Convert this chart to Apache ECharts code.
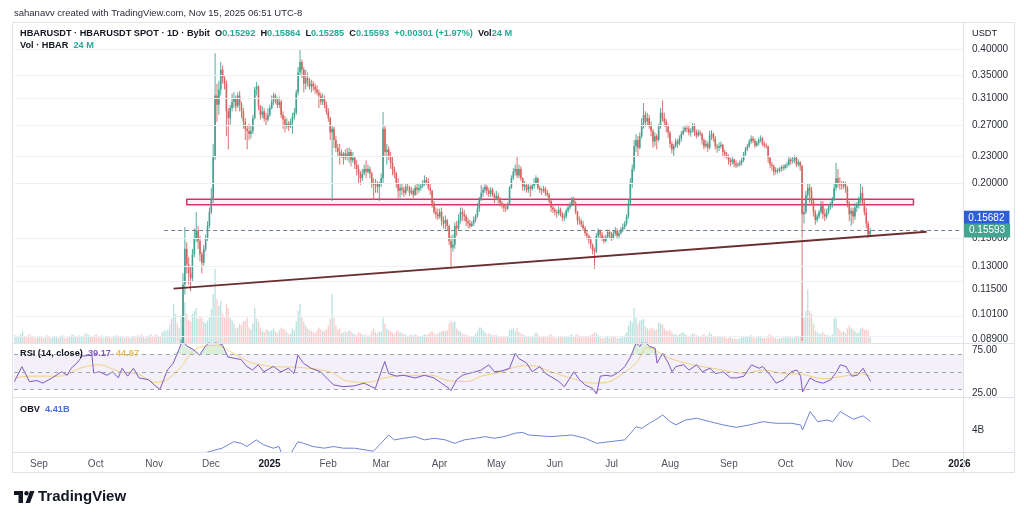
<!DOCTYPE html>
<html><head><meta charset="utf-8">
<script src="https://cdn.jsdelivr.net/npm/echarts@6/dist/echarts.min.js"></script>
<style>html,body{margin:0;padding:0;background:#fff}#c{width:1024px;height:514px}</style>
</head><body><div id="c"></div>
<script>
// ---------- DATA ----------
// daily closes 2024-08-19 .. 2024-11-09 (candles lie below the visible price range)
const closePre = [.0560,.0575,.0581,.0590,.0612,.0605,.0598,.0571,.0560,.0555,.0548,.0535,.0540,
 .0532,.0525,.0518,.0522,.0510,.0497,.0503,.0510,.0526,.0531,.0528,.0539,.0548,.0544,.0536,.0529,.0534,.0541,.0562,.0571,.0568,.0575,.0581,.0590,.0583,.0594,.0602,.0596,.0588,.0576,
 .0545,.0531,.0528,.0535,.0532,.0536,.0529,.0521,.0515,.0512,.0523,.0526,.0521,.0534,.0528,.0531,.0512,.0507,.0510,.0515,.0502,.0498,.0493,.0496,.0478,.0482,.0487,.0480,.0492,.0486,.0474,
 .0470,.0468,.0472,.0468,.0480,.0508,.0521,.0535,.0560];
// daily [close, low, high]; open = previous close
const nov24 = [[.0610,.0555,.0625],[.0690,.0600,.0720],[.0720,.0660,.0780],[.0680,.0640,.0740],[.0705,.0665,.0735],[.0840,.0695,.0890],[.1180,.0830,.1250],[.1420,.1120,.1590],[.1310,.1250,.1470],[.1250,.1180,.1360],[.1220,.1140,.1300],[.1380,.1200,.1420],[.1500,.1360,.1580],[.1560,.1470,.1720],[.1480,.1420,.1600],[.1380,.1330,.1520],[.1320,.1250,.1400],[.1420,.1300,.1450],[.1500,.1400,.1530],[.1600,.1480,.1640],[.1720,.1580,.1760]];
const dec24 = [[.1850,.1700,.1950],[.2300,.1800,.2450],[.3150,.2250,.3920],[.3000,.2750,.3350],[.3250,.2850,.3400],[.3600,.3150,.3750],[.3450,.3350,.3680],[.3350,.3250,.3500],[.2900,.2550,.3400],[.2800,.2380,.2950],[.2950,.2700,.3000],[.3050,.2900,.3180],[.3100,.2950,.3200],[.2980,.2900,.3150],[.3150,.2950,.3200],[.3000,.2900,.3220],[.2900,.2800,.3050],[.2750,.2650,.2950],[.2650,.2500,.2800],[.2620,.2380,.2700],[.2580,.2500,.2720],[.2620,.2520,.2700],[.2800,.2580,.2850],[.3250,.2780,.3300],[.3300,.3150,.3380],[.2980,.2920,.3320],[.2850,.2780,.3000],[.2900,.2800,.2980],[.2800,.2750,.2950],[.2780,.2700,.2880],[.2850,.2750,.2950]];
const jan25 = [[.2950,.2820,.3000],[.3050,.2930,.3150],[.3150,.3000,.3200],[.3100,.3020,.3180],[.3000,.2950,.3120],[.3050,.2950,.3130],[.2850,.2800,.3080],[.2780,.2650,.2900],[.2700,.2600,.2830],[.2720,.2650,.2800],[.2680,.2620,.2760],[.2750,.2660,.2790],[.2820,.2580,.2880],[.2880,.2780,.2950],[.3200,.2850,.3250],[.3550,.3150,.3650],[.3750,.3500,.4000],[.3600,.3450,.3800],[.3350,.3200,.3650],[.3450,.3250,.3600],[.3400,.3300,.3550],[.3300,.3250,.3450],[.3350,.3200,.3420],[.3300,.3230,.3400],[.3250,.3180,.3350],[.3200,.3150,.3320],[.3150,.2950,.3250],[.3050,.3000,.3200],[.3100,.3000,.3180],[.3000,.2950,.3150],[.2900,.2850,.3050]];
const feb25 = [[.2800,.2750,.2950],[.2600,.2500,.2820],[.2650,.1820,.2700],[.2500,.2400,.2680],[.2400,.2350,.2550],[.2350,.2300,.2450],[.2300,.2200,.2450],[.2330,.2280,.2380],[.2280,.2200,.2350],[.2330,.2250,.2380],[.2300,.2250,.2400],[.2350,.2220,.2400],[.2250,.2180,.2380],[.2280,.2220,.2350],[.2200,.2150,.2300],[.2150,.2080,.2250],[.2100,.2000,.2200],[.2050,.1980,.2130],[.2100,.2020,.2150],[.2150,.2080,.2200],[.2120,.2050,.2250],[.2150,.2100,.2200],[.2100,.2050,.2180],[.2000,.1950,.2120],[.1980,.1830,.2050],[.1990,.1900,.2040],[.1960,.1900,.2020],[.1990,.1820,.2010]];
const mar25 = [[.2050,.1960,.2100],[.2650,.2000,.2890],[.2350,.2300,.2700],[.2380,.2200,.2450],[.2300,.2250,.2420],[.2220,.2150,.2350],[.2150,.2080,.2300],[.2100,.2050,.2180],[.2000,.1950,.2120],[.1920,.1850,.2050],[.1950,.1850,.1990],[.1930,.1880,.1990],[.1900,.1860,.1960],[.1960,.1880,.1990],[.1950,.1920,.1990],[.1900,.1870,.1970],[.1920,.1880,.1960],[.1880,.1850,.1940],[.1950,.1870,.1980],[.1930,.1880,.1990],[.1950,.1900,.1990],[.1970,.1920,.2000],[.2000,.1950,.2030],[.2030,.1970,.2080],[.2010,.1980,.2060],[.1950,.1930,.2050],[.1920,.1880,.1990],[.1800,.1760,.1930],[.1720,.1700,.1820],[.1700,.1660,.1760],[.1680,.1650,.1750]];
const apr25 = [[.1720,.1660,.1750],[.1640,.1600,.1760],[.1620,.1580,.1680],[.1650,.1570,.1690],[.1600,.1560,.1660],[.1480,.1450,.1610],[.1430,.1280,.1520],[.1450,.1400,.1530],[.1600,.1420,.1630],[.1580,.1520,.1640],[.1650,.1560,.1700],[.1720,.1620,.1760],[.1700,.1640,.1760],[.1680,.1640,.1740],[.1640,.1600,.1700],[.1620,.1580,.1670],[.1600,.1580,.1650],[.1620,.1590,.1640],[.1650,.1600,.1680],[.1680,.1630,.1700],[.1750,.1670,.1800],[.1830,.1720,.1860],[.1900,.1820,.1980],[.1930,.1860,.1960],[.1960,.1900,.2000],[.1920,.1880,.1980],[.1890,.1860,.1950],[.1930,.1860,.1960],[.1880,.1860,.1950],[.1850,.1800,.1900]];
const may25 = [[.1870,.1830,.1920],[.1830,.1800,.1900],[.1800,.1770,.1860],[.1780,.1750,.1820],[.1760,.1720,.1800],[.1750,.1720,.1790],[.1790,.1740,.1810],[.1950,.1780,.1970],[.2050,.1940,.2080],[.2120,.2030,.2160],[.2150,.2080,.2200],[.2080,.2050,.2290],[.2150,.2050,.2200],[.2050,.2020,.2180],[.1960,.1920,.2060],[.1980,.1920,.2020],[.1930,.1900,.2000],[.1960,.1900,.2000],[.1940,.1860,.1980],[.1970,.1920,.2000],[.1990,.1940,.2050],[.2050,.1980,.2080],[.1950,.1930,.2060],[.1930,.1900,.1970],[.1920,.1880,.1950],[.1940,.1900,.1970],[.1900,.1870,.1960],[.1880,.1860,.1930],[.1820,.1800,.1900],[.1760,.1720,.1830],[.1740,.1710,.1780]];
const jun25 = [[.1720,.1690,.1760],[.1710,.1670,.1740],[.1740,.1690,.1770],[.1700,.1680,.1760],[.1670,.1640,.1720],[.1680,.1640,.1710],[.1730,.1660,.1750],[.1760,.1710,.1780],[.1790,.1740,.1810],[.1840,.1770,.1860],[.1800,.1780,.1860],[.1720,.1700,.1820],[.1650,.1610,.1730],[.1640,.1610,.1680],[.1610,.1590,.1660],[.1580,.1560,.1640],[.1540,.1520,.1600],[.1520,.1490,.1560],[.1490,.1460,.1530],[.1450,.1420,.1510],[.1410,.1380,.1460],[.1400,.1280,.1430],[.1520,.1390,.1540],[.1560,.1500,.1580],[.1530,.1500,.1570],[.1500,.1480,.1550],[.1480,.1460,.1520],[.1510,.1470,.1530],[.1550,.1500,.1570],[.1530,.1500,.1570]];
const jul25 = [[.1500,.1480,.1550],[.1540,.1490,.1560],[.1560,.1520,.1590],[.1520,.1500,.1580],[.1540,.1500,.1560],[.1570,.1530,.1590],[.1590,.1550,.1620],[.1620,.1570,.1640],[.1680,.1600,.1700],[.1800,.1660,.1830],[.2000,.1780,.2050],[.2150,.1950,.2200],[.2420,.2120,.2500],[.2500,.2350,.2580],[.2400,.2300,.2550],[.2550,.2380,.2600],[.2720,.2520,.2800],[.2850,.2650,.3030],[.2750,.2680,.2900],[.2800,.2700,.2880],[.2700,.2650,.2850],[.2620,.2550,.2750],[.2480,.2400,.2650],[.2550,.2420,.2600],[.2500,.2380,.2580],[.2680,.2480,.2720],[.2880,.2650,.2950],[.2800,.2750,.3070],[.2750,.2680,.2880],[.2680,.2600,.2790],[.2600,.2530,.2720]];
const aug25 = [[.2450,.2400,.2620],[.2380,.2330,.2480],[.2420,.2300,.2450],[.2480,.2400,.2520],[.2450,.2400,.2510],[.2520,.2430,.2560],[.2580,.2480,.2620],[.2620,.2560,.2680],[.2660,.2600,.2700],[.2650,.2600,.2710],[.2600,.2560,.2700],[.2620,.2540,.2660],[.2700,.2600,.2730],[.2600,.2550,.2720],[.2560,.2520,.2640],[.2600,.2540,.2640],[.2580,.2550,.2630],[.2500,.2440,.2600],[.2420,.2380,.2520],[.2450,.2400,.2500],[.2400,.2350,.2480],[.2560,.2380,.2620],[.2580,.2500,.2630],[.2520,.2480,.2600],[.2420,.2380,.2550],[.2400,.2340,.2450],[.2420,.2360,.2470],[.2440,.2390,.2480],[.2350,.2300,.2450],[.2320,.2280,.2380],[.2300,.2270,.2350]];
const sep25 = [[.2250,.2200,.2320],[.2230,.2180,.2280],[.2260,.2200,.2290],[.2210,.2170,.2270],[.2190,.2160,.2250],[.2200,.2170,.2230],[.2220,.2180,.2250],[.2250,.2190,.2280],[.2320,.2230,.2350],[.2380,.2300,.2410],[.2420,.2360,.2450],[.2480,.2400,.2510],[.2520,.2450,.2560],[.2490,.2460,.2550],[.2430,.2400,.2520],[.2460,.2410,.2490],[.2500,.2430,.2530],[.2520,.2470,.2560],[.2450,.2420,.2540],[.2430,.2400,.2480],[.2420,.2390,.2460],[.2280,.2220,.2430],[.2200,.2160,.2300],[.2180,.2130,.2230],[.2120,.2080,.2200],[.2140,.2090,.2170],[.2130,.2100,.2160],[.2150,.2110,.2170],[.2170,.2120,.2190],[.2160,.2130,.2200]];
const oct25 = [[.2190,.2140,.2210],[.2200,.2160,.2230],[.2260,.2180,.2300],[.2240,.2200,.2280],[.2250,.2210,.2300],[.2280,.2220,.2310],[.2200,.2170,.2300],[.2230,.2180,.2260],[.2180,.2130,.2240],[.1700,.0880,.2200],[.1720,.1620,.1800],[.1880,.1700,.1920],[.1950,.1850,.2000],[.1920,.1800,.1990],[.1820,.1780,.1960],[.1720,.1680,.1850],[.1650,.1610,.1740],[.1680,.1630,.1700],[.1720,.1660,.1740],[.1780,.1700,.1820],[.1700,.1660,.1820],[.1680,.1640,.1750],[.1720,.1660,.1750],[.1760,.1700,.1790],[.1780,.1740,.1810],[.1830,.1760,.1860],[.1950,.1820,.2000],[.2050,.1920,.2220],[.2000,.1950,.2150],[.1980,.1930,.2060],[.1970,.1930,.2020]];
const nov25 = [[.1990,.1940,.2020],[.1950,.1900,.2010],[.1800,.1760,.1970],[.1700,.1640,.1820],[.1730,.1600,.1760],[.1680,.1620,.1760],[.1760,.1650,.1800],[.1780,.1720,.1810],[.1830,.1750,.1860],[.1900,.1800,.1990],[.1800,.1780,.1960],[.1720,.1690,.1850],[.1620,.1580,.1760],[.15292,.1500,.1640],[.15593,.15285,.15864]];
// daily volume (bar heights), 2024-08-19 .. 2025-11-15
const volume = [80,60,70,90,120,70,60,80,90,70,60,50,60,
 60,70,50,60,80,70,50,60,70,60,50,60,80,60,50,60,70,80,90,70,60,80,70,60,90,100,80,60,70,80,
 90,70,60,80,50,60,70,60,50,60,70,80,60,70,60,50,70,60,50,60,70,60,80,70,90,60,50,70,80,90,70,
 80,90,70,60,110,130,120,140,190,250,400,300,200,150,280,500,420,300,240,220,300,330,360,250,280,260,220,200,230,260,
 350,500,760,450,380,430,300,260,400,360,260,230,200,150,160,200,180,220,230,260,160,140,200,360,250,220,160,120,110,140,130,
 120,130,150,120,100,130,160,150,140,110,90,100,150,130,220,330,400,280,220,180,150,130,120,110,100,130,160,140,120,130,140,
 180,250,500,260,180,140,150,100,110,120,110,130,120,100,90,80,110,100,90,80,90,70,80,120,150,110,100,120,
 110,260,200,150,130,120,110,90,120,130,110,100,90,90,70,80,90,80,90,80,70,70,80,90,80,90,110,120,100,90,100,
 110,120,130,120,130,200,230,210,220,150,130,120,100,90,80,80,70,60,70,90,120,160,160,130,110,90,100,90,80,80,
 80,70,60,60,70,60,70,130,140,150,120,160,110,100,90,80,70,60,60,70,80,110,90,70,60,60,70,60,80,90,70,
 60,50,60,70,60,60,60,70,80,90,70,80,90,70,60,60,70,70,60,80,90,110,100,80,60,50,50,60,60,50,
 60,70,60,50,50,60,60,80,110,180,230,210,360,260,200,230,240,250,170,150,140,160,150,130,140,210,200,190,150,130,120,
 140,110,90,90,80,90,100,110,90,80,70,80,100,90,80,70,70,80,90,70,80,110,90,70,60,60,70,60,70,60,50,
 50,60,50,50,40,40,50,60,70,70,60,70,80,60,50,60,70,60,50,50,50,80,90,70,60,50,40,50,50,60,
 60,60,70,60,50,60,70,60,70,300,260,330,550,330,300,200,130,110,90,100,110,90,80,80,70,90,250,260,160,130,110,
 120,100,150,180,160,140,120,100,110,150,160,130,140,130,60];
// [day offset from 2025-01-01, value]
const rsi = [[-135,38.7],[-131,55.8],[-127,38.7],[-123,40],[-120,37],[-115,43],[-110,50],[-107,46],[-105,54],[-102,59.7],[-99,68],[-94,69],[-93,48.6],[-90,50],[-86,46],[-83,50],[-80,43],[-78,54],[-75,45],[-72,54],[-69,43],[-64,41],[-61,35],[-58,30],[-56,41],[-54,52],[-51,59.7],[-48,75],[-46,86],[-44,80],[-40,75],[-37,69],[-34,79],[-31,86],[-28,83],[-25,81],[-22,67],[-19,65.6],[-15,64],[-12,56],[-9,52],[-6,58],[-3,50],[2,56],[6,50],[10,54],[13,48],[15,69],[18,59.7],[22,54],[27,50],[31,41],[34,35],[39,33],[45,34],[50,37],[54,33],[56,31],[59,50],[61,61.7],[63,48],[67,45],[71,46],[77,43],[82,46],[87,43],[91,37],[95,31],[96,28.4],[99,41],[102,46],[105,48],[109,50],[112,52],[116,58],[119,50],[123,51],[127,54],[130,71],[132,65],[136,60],[139,50],[143,56],[146,48],[150,43],[153,39],[156,33],[159,43],[161,50],[164,41],[167,35],[171,31],[173,24.6],[175,45],[178,46],[181,45],[185,50],[188,56],[191,67],[194,83],[196,79],[198,86],[201,79],[204,77],[205,60],[208,71],[211,60],[213,50],[215,56],[219,58],[222,52],[226,58],[229,50],[233,54],[236,48],[240,50],[244,43],[247,43],[251,45],[255,58],[259,54],[261,56],[265,46],[268,37],[272,41],[276,50],[279,52],[281,45],[282,27],[286,43],[289,39],[293,37],[297,41],[300,50],[302,58],[305,56],[308,45],[311,46],[314,54],[317,43],[318,39.17]];
const rsiMa = [[-135,43],[-127,45],[-111,45],[-99,55],[-90,58],[-79,50],[-69,47],[-61,38],[-55,40],[-47,55],[-42,70],[-37,78],[-28,80],[-19,71],[-9,60],[2,56],[16,55],[32,50],[40,40],[52,38],[61,43],[70,46],[86,46],[94,40],[105,39],[112,45],[123,50],[131,56],[139,57],[149,50],[159,43],[171,37],[179,38],[185,45],[194,60],[200,78],[211,66],[224,58],[240,52],[251,48],[261,52],[272,48],[282,47],[293,42],[304,45],[312,48],[318,44.97]];
const obv = [[-60,2.3],[-45,2.6],[-35,2.85],[-25,3.10],[-22,3.26],[-19,3.42],[-15,3.34],[-12,3.18],[-7,3.51],[-3,3.26],[2,3.10],[5,3.18],[7,2.7],[11,2.8],[15,3.42],[18,3.34],[23,3.18],[29,3.10],[34,3.18],[39,3.10],[45,3.10],[50,3.02],[55,2.95],[59,3.34],[63,3.75],[66,3.51],[71,3.59],[77,3.67],[82,3.51],[87,3.59],[93,3.51],[98,3.34],[103,3.51],[109,3.59],[114,3.67],[119,3.59],[124,3.67],[130,3.84],[134,3.88],[137,3.75],[149,3.67],[160,3.75],[167,3.59],[173,3.34],[180,3.42],[188,3.51],[194,4.16],[197,4.08],[201,4.33],[204,4.49],[208,4.74],[212,4.41],[215,4.25],[220,4.49],[226,4.58],[233,4.41],[240,4.25],[247,4.13],[254,4.25],[261,4.41],[268,4.33],[276,4.33],[281,4.25],[282,4.00],[286,4.91],[290,4.41],[295,4.49],[298,4.41],[302,4.91],[305,4.74],[309,4.53],[314,4.70],[318,4.41]];
const priceTicks = [0.089,0.101,0.115,0.13,0.15,0.2,0.23,0.27,0.31,0.35,0.4];
const rsiTicks = [25,75];
const rsiLevels = [70,50,30];
const rsiUpper = 70, rsiLower = 30;
const obvTicks = [4];
const zoneStart = '2024-11-18', zoneEnd = '2025-12-08', zoneLow = 0.1785, zoneHigh = 0.1838;
const trendStart = ['2024-11-11', 0.1155], trendEnd = ['2025-12-15', 0.1552];
const rayStart = '2024-11-06', rayPrice = 0.15682, lastPrice = 0.15593;

// ---------- BUILD ----------
const DAY = 864e5, T0 = Date.UTC(2025,0,1), D_START = -135;
const t = d => T0 + d*DAY;
const ts = s => Date.parse(s + 'T00:00:00Z');
const rows = [].concat(nov24,dec24,jan25,feb25,mar25,apr25,may25,jun25,jul25,aug25,sep25,oct25,nov25);
const allClose = closePre.concat(rows.map(r => r[0]));
const candles = rows.map((r,i) => { const k = closePre.length + i; return [t(D_START+k), allClose[k-1], r[0], r[1], r[2]]; });
const UP = '#43a190', DN = '#d8625e';
const volData = volume.map((v,i) => {
  const up = i === 0 || allClose[i] >= allClose[i-1];
  return {value:[t(D_START+i), v], itemStyle:{color: up ? 'rgba(38,166,154,0.33)' : 'rgba(239,83,80,0.30)'}};
});
const toPts = a => a.map(p => [t(p[0]), p[1]]);
const rsiOver = rsi.map(p => [t(p[0]), Math.max(p[1], rsiUpper)]);
const rsiUnder = rsi.map(p => [t(p[0]), Math.min(p[1], rsiLower)]);
const xMin = t(-135.19), xMax = t(366.9);
const MN = ['Jan','Feb','Mar','Apr','May','Jun','Jul','Aug','Sep','Oct','Nov','Dec'];
const F = 'Liberation Sans, Arial, sans-serif';
const DARK = '#131722', TEAL = '#22ab94';

const chart = echarts.init(document.getElementById('c'), null, {renderer:'canvas'});
const xAxisBase = i => ({type:'time', gridIndex:i, min:xMin, max:xMax, minInterval:28*DAY, maxInterval:31*DAY,
  axisLine:{show:false}, axisTick:{show:false}, splitLine:{show:false},
  axisLabel: i < 2 ? {show:false} : {color:'#50535e', fontSize:10, fontFamily:F, margin:7, hideOverlap:false,
    formatter: v => { const d = new Date(v); if (d.getUTCDate() !== 1) return ''; return d.getUTCMonth()===0 ? '{b|' + d.getUTCFullYear() + '}' : MN[d.getUTCMonth()]; },
    rich:{b:{fontWeight:'bold', color:'#131722', fontSize:10, fontFamily:F}}}});
const axisLbl = (vals, fmt) => ({customValues: vals, formatter: fmt, color:'#2a2e39', fontSize:10, fontFamily:F, margin:9});
const HF = 9.2;
const rich2 = {d:{fontSize:HF, color:DARK, fontFamily:F}, v:{fontSize:HF, color:TEAL, fontFamily:F}};

const option = {
  animation:false, useUTC:true, backgroundColor:'#ffffff',
  textStyle:{fontFamily:F},
  title:[
    {left:14, top:8, padding:0, text:'sahanavv created with TradingView.com, Nov 15, 2025 06:51 UTC-8', textStyle:{fontSize:9.5, fontWeight:'normal', color:'#2a2e39', fontFamily:F}},
    {left:20, top:29, padding:0, text:'{d|HBARUSDT · HBARUSDT SPOT · 1D · Bybit  O}{v|0.15292}{d|  H}{v|0.15864}{d|  L}{v|0.15285}{d|  C}{v|0.15593}{v|  +0.00301 (+1.97%)}{d|  Vol}{v|24 M}',
      textStyle:{rich:rich2}},
    {left:20, top:41, padding:0, text:'{d|Vol · HBAR}{v|  24 M}', textStyle:{rich:rich2}},
    {left:972, top:29, padding:0, text:'USDT', textStyle:{fontSize:HF, fontWeight:'normal', color:DARK, fontFamily:F}},
    {left:20, top:349, padding:0, text:'{d|RSI (14, close)}{p|  39.17}{y|  44.97}', textStyle:{rich:{d:{fontSize:HF, color:DARK, fontFamily:F}, p:{fontSize:HF, color:'#7e57c2', fontFamily:F}, y:{fontSize:HF, color:'#e2bc4e', fontFamily:F}}}},
    {left:20, top:405, padding:0, text:'{d|OBV}{b|  4.41B}', textStyle:{rich:{d:{fontSize:HF, color:DARK, fontFamily:F}, b:{fontSize:HF, color:'#4a6fd8', fontFamily:F}}}}
  ],
  grid:[
    {left:14, top:22, width:949, height:321},
    {left:14, top:343, width:949, height:54},
    {left:14, top:397, width:949, height:55}
  ],
  xAxis:[xAxisBase(0), xAxisBase(1), xAxisBase(2)],
  yAxis:[
    {type:'log', gridIndex:0, position:'right', min:0.08708, max:0.4614, axisLine:{show:false}, axisTick:{show:false}, splitLine:{show:false},
      axisLabel: axisLbl(priceTicks, v => Number(v).toFixed(5))},
    {type:'value', gridIndex:0, min:0, max:3300, show:false},
    {type:'value', gridIndex:1, position:'right', min:21.2, max:82.9, axisLine:{show:false}, axisTick:{show:false}, splitLine:{show:false},
      axisLabel: axisLbl(rsiTicks, v => Number(v).toFixed(2))},
    {type:'value', gridIndex:2, position:'right', min:2.91, max:5.63, axisLine:{show:false}, axisTick:{show:false}, splitLine:{show:false},
      axisLabel: axisLbl(obvTicks, v => v + 'B')}
  ],
  series:[
    {type:'bar', name:'vol', xAxisIndex:0, yAxisIndex:1, data:volData, barWidth:1.3, silent:true, z:1},
    {type:'custom', name:'price', xAxisIndex:0, yAxisIndex:0, clip:true, z:3, data:candles, encode:{x:0, y:[1,2,3,4]},
      renderItem:(params, api) => {
        const xv = api.value(0), o = api.value(1), c = api.value(2);
        const po = api.coord([xv, o]), pc = api.coord([xv, c]);
        const pl = api.coord([xv, api.value(3)]), ph = api.coord([xv, api.value(4)]);
        const col = c >= o ? UP : DN;
        const top = Math.min(po[1], pc[1]); const h = Math.max(Math.abs(po[1]-pc[1]), 0.8);
        return {type:'group', children:[
          {type:'line', shape:{x1:po[0], y1:ph[1], x2:po[0], y2:pl[1]}, style:{stroke:col, lineWidth:0.9}},
          {type:'rect', shape:{x:po[0]-0.8, y:top, width:1.6, height:h}, style:{fill:col}}
        ]};
      },
      markArea:{silent:true, itemStyle:{color:'rgba(236,64,122,0.07)', borderColor:'#d6336c', borderWidth:1.5},
        data:[[{coord:[ts(zoneStart), zoneHigh]}, {coord:[ts(zoneEnd), zoneLow]}]]},
      markLine:{silent:true, symbol:'none', animation:false,
        data:[
          ...priceTicks.map(p => ({yAxis:p, lineStyle:{color:'#f0f1f5', width:1, type:'solid'}, label:{show:false}})),
          [{coord:[ts(trendStart[0]), trendStart[1]], lineStyle:{color:'#6a2e2e', width:2, type:'solid'}, label:{show:false}}, {coord:[ts(trendEnd[0]), trendEnd[1]]}],
          [{coord:[ts(rayStart), rayPrice], lineStyle:{color:'#6f8296', width:1, type:[4,3]},
            label:{show:true, position:'end', distance:1, formatter:'0.15682', color:'#fff', backgroundColor:'#2f5fd6', padding:[2,5,2,5], fontSize:10, fontFamily:F, offset:[0,-12]}},
           {coord:[xMax, rayPrice]}],
          {yAxis:lastPrice, lineStyle:{color:'rgba(0,0,0,0)', width:0.1}, label:{show:true, position:'end', distance:1, formatter:'0.15593', color:'#fff', backgroundColor:'#43a58f', padding:[2,5,2,5], fontSize:10, fontFamily:F, offset:[0,4.5]}}
        ]}
    },
    {type:'line', name:'rsiOver', xAxisIndex:1, yAxisIndex:2, data:rsiOver, symbol:'none', lineStyle:{width:0, opacity:0}, z:2, silent:true,
      areaStyle:{origin:rsiUpper, color:'rgba(76,175,80,0.28)'}},
    {type:'line', name:'rsiUnder', xAxisIndex:1, yAxisIndex:2, data:rsiUnder, symbol:'none', lineStyle:{width:0, opacity:0}, z:2, silent:true,
      areaStyle:{origin:rsiLower, color:'rgba(242,54,69,0.25)'}},
    {type:'line', name:'rsi', xAxisIndex:1, yAxisIndex:2, data:toPts(rsi), symbol:'none', lineStyle:{color:'#7e57c2', width:1}, z:3,
      markArea:{silent:true, itemStyle:{color:'rgba(126,87,194,0.09)'}, data:[[{yAxis:rsiLower}, {yAxis:rsiUpper}]]},
      markLine:{silent:true, symbol:'none', label:{show:false}, lineStyle:{color:'#a3a6af', width:1, type:[4,4]}, data: rsiLevels.map(v => ({yAxis:v}))}},
    {type:'line', name:'rsiMa', xAxisIndex:1, yAxisIndex:2, data:toPts(rsiMa), symbol:'none', smooth:0.3, lineStyle:{color:'#f1d27a', width:1}, z:2},
    {type:'line', name:'obv', xAxisIndex:2, yAxisIndex:3, data:toPts(obv), symbol:'none', lineStyle:{color:'#6d84d6', width:1}, z:3}
  ],
  graphic:[
    {type:'rect', shape:{x:12.5, y:22.5, width:1002, height:450}, style:{fill:null, stroke:'#e0e3eb', lineWidth:1}, silent:true, z:10},
    {type:'line', shape:{x1:12, y1:343.5, x2:1015, y2:343.5}, style:{stroke:'#e0e3eb', lineWidth:1}, silent:true, z:10},
    {type:'line', shape:{x1:12, y1:397.5, x2:1015, y2:397.5}, style:{stroke:'#e0e3eb', lineWidth:1}, silent:true, z:10},
    {type:'line', shape:{x1:12, y1:452.5, x2:1015, y2:452.5}, style:{stroke:'#e0e3eb', lineWidth:1}, silent:true, z:10},
    {type:'line', shape:{x1:963.5, y1:22, x2:963.5, y2:472}, style:{stroke:'#e0e3eb', lineWidth:1}, silent:true, z:10},
    {type:'group', left:14, top:489, silent:true, children:[
      {type:'rect', shape:{x:0, y:0, width:9, height:4}, style:{fill:'#131722'}},
      {type:'rect', shape:{x:4.5, y:0, width:4.5, height:12}, style:{fill:'#131722'}},
      {type:'circle', shape:{cx:12.5, cy:2.2, r:2.2}, style:{fill:'#131722'}},
      {type:'polygon', shape:{points:[[16,0],[20.5,0],[16,12],[11.5,12]]}, style:{fill:'#131722'}},
      {type:'text', x:24, y:-2, style:{text:'TradingView', fill:'#131722', font:'bold 15px ' + F}}
    ]}
  ]
};
chart.setOption(option);
</script></body></html>
